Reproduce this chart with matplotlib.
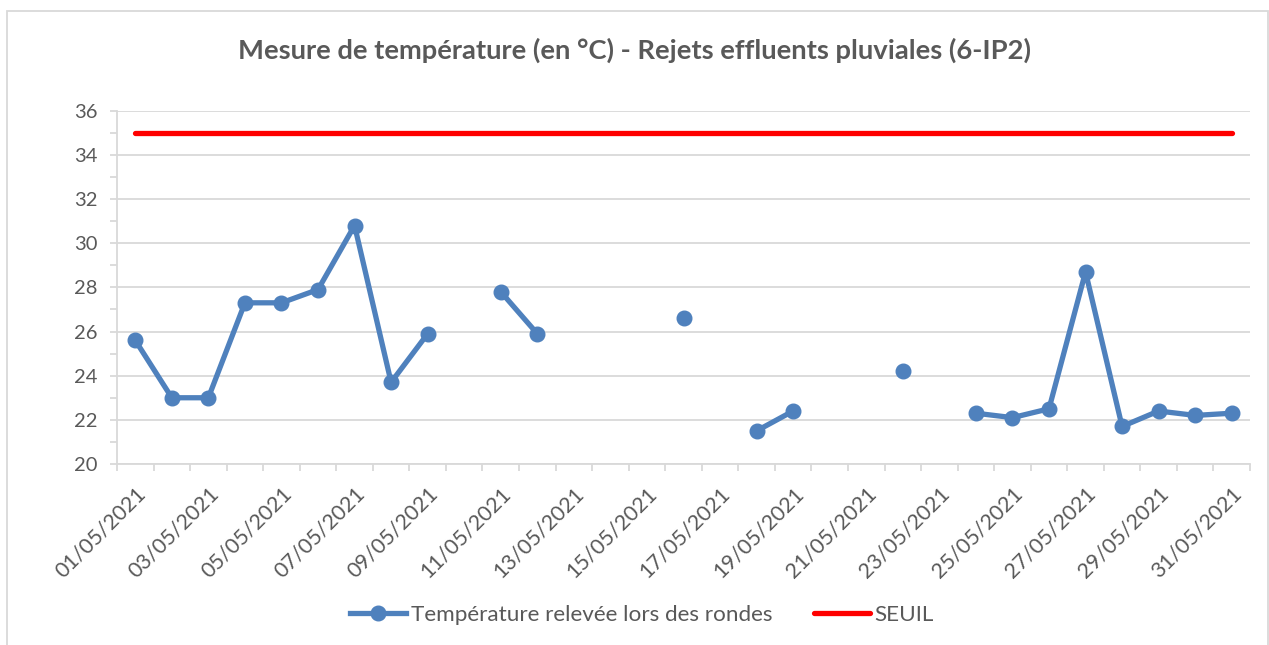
import matplotlib
matplotlib.use("Agg")
import matplotlib.pyplot as plt
from matplotlib.patches import Rectangle
import numpy as np

plt.rcParams['font.family'] = ['Lato', 'DejaVu Sans']

# one entry per day of May 2021, None = no measurement
dates = ["%02d/05/2021" % d for d in range(1, 32)]
temperature = [25.6, 23.0, 23.0, 27.3, 27.3, 27.9, 30.8, 23.7, 25.9, None,
               27.8, 25.9, None, None, None, 26.6, None, 21.5, 22.4, None,
               None, 24.2, None, 22.3, 22.1, 22.5, 28.7, 21.7, 22.4, 22.2,
               22.3]
seuil = [35] * len(dates)

title = "Mesure de température (en °C) - Rejets effluents pluviales (6-IP2)"
label_temp = "Température relevée lors des rondes"
label_seuil = "SEUIL"

BLUE = "#4f81bd"
RED = "#ff0000"
GRID = "#d9d9d9"
TXT = "#595959"

W, H = 1269, 645
fig = plt.figure(figsize=(W / 100, H / 100), dpi=100)
ax = fig.add_axes([117 / W, 1 - 464 / H, (1250 - 117) / W, (464 - 110.7) / H])

x = np.arange(len(dates))
temp = np.array([np.nan if v is None else v for v in temperature], dtype=float)

ax.plot(x, seuil, color=RED, lw=3.8, solid_capstyle='round', label=label_seuil, zorder=3)
ax.plot(x, temp, color=BLUE, lw=3.8, marker='o', markersize=10.5,
        label=label_temp, zorder=4)

ax.set_xlim(-0.5, len(dates) - 0.5)
ax.set_ylim(20, 36)
ax.set_yticks(np.arange(20, 37, 2))
ax.set_yticks(np.arange(21, 36, 2), minor=True)
ax.yaxis.grid(True, color=GRID, lw=1.3)
ax.set_axisbelow(True)

ax.set_xticks(x[::2])
ax.set_xticklabels(dates[::2], rotation=45, ha='right', va='top',
                   rotation_mode='anchor')
ax.set_xticks(np.arange(-0.5, len(dates), 1), minor=True)

ax.tick_params(axis='x', which='major', length=0, pad=14, labelsize=15.5, labelcolor=TXT)
ax.tick_params(axis='x', which='minor', length=5, color=GRID, width=1.3)
ax.tick_params(axis='y', which='both', length=5, color=GRID, width=1.3,
               labelsize=14.5, labelcolor=TXT, pad=9)

for s in ['top', 'right']:
    ax.spines[s].set_visible(False)
for s in ['left', 'bottom']:
    ax.spines[s].set_color(GRID)
    ax.spines[s].set_linewidth(1.3)

fig.text(0.5, 1 - 50 / H, title, ha='center', va='center', fontsize=19.7,
         fontweight='bold', color=TXT)

handles, labels = ax.get_legend_handles_labels()
leg = fig.legend(handles[::-1], labels[::-1], loc='center', ncol=2,
                 bbox_to_anchor=(642 / W, 1 - 615 / H), frameon=False,
                 fontsize=16.2, labelcolor=TXT, handlelength=2.5,
                 handletextpad=0.18, columnspacing=1.87)

fig.patches.append(Rectangle((7 / W, -0.01), (1267.5 - 7) / W, 1 - 11 / H + 0.01,
                             transform=fig.transFigure, fill=False,
                             edgecolor=GRID, lw=1.3))

fig.savefig("out.png", dpi=100, facecolor='white')
